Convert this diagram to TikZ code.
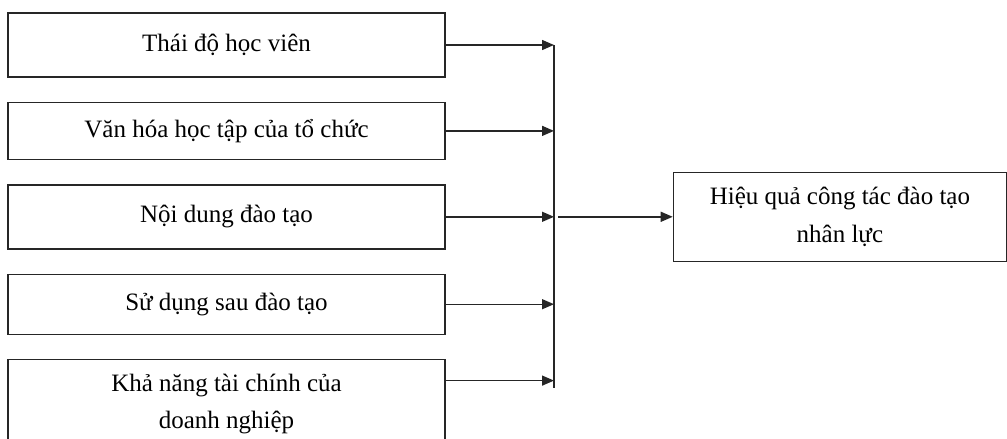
\documentclass[tikz,border=0pt]{standalone}
\usepackage{fontspec}
\setmainfont{Liberation Serif}
\usetikzlibrary{arrows.meta, positioning}

\begin{document}
\begin{tikzpicture}[
  x=1pt,
  y=-1pt,
  font=\fontsize{25}{37.5}\selectfont,
  factorbox/.style={
    rectangle,
    draw=black!85,
    line width=1.4pt,
    minimum width=437pt,
    align=center,
    inner sep=0pt
  },
  resultbox/.style={
    factorbox,
    minimum width=333pt,
    minimum height=89pt
  },
  flowarrow/.style={
    -{Triangle[length=12pt,width=10pt]},
    line width=1.4pt,
    draw=black!85
  },
  busline/.style={
    line width=1.4pt,
    draw=black!85
  },
  node distance=24pt
]
\useasboundingbox (0,0) rectangle (1007,439);
\clip (0,0) rectangle (1007,439);

% factors on the left
\node[factorbox, minimum height=64pt] (attitude) at (226.5,45) {Thái độ học viên};
\node[factorbox, minimum height=57pt, below=of attitude] (culture) {Văn hóa học tập của tổ chức};
\node[factorbox, minimum height=64pt, below=of culture] (content) {Nội dung đào tạo};
\node[factorbox, minimum height=60pt, below=of content] (usage) {Sử dụng sau đào tạo};
\node[factorbox, minimum height=89pt, below=of usage] (finance) {Khả năng tài chính của\\doanh nghiệp};

% outcome
\node[resultbox, right=227pt of content] (effect) {Hiệu quả công tác đào tạo\\nhân lực};

% collecting line
\coordinate (bus) at (554,0);
\coordinate (financeout) at ([yshift=23.5pt]finance.east);
\coordinate (busend) at ([yshift=-7pt]financeout);
\coordinate (junction) at (content.east -| bus);
\draw[busline] (attitude.east -| bus) -- (busend -| bus);

\draw[flowarrow] (attitude.east) -- (attitude.east -| bus);
\draw[flowarrow] (culture.east) -- (culture.east -| bus);
\draw[flowarrow] (content.east) -- (junction);
\draw[flowarrow] (usage.east) -- (usage.east -| bus);
\draw[flowarrow] (financeout) -- (financeout -| bus);
\draw[flowarrow] ([xshift=4pt]junction) -- (effect.west);

\end{tikzpicture}
\end{document}
